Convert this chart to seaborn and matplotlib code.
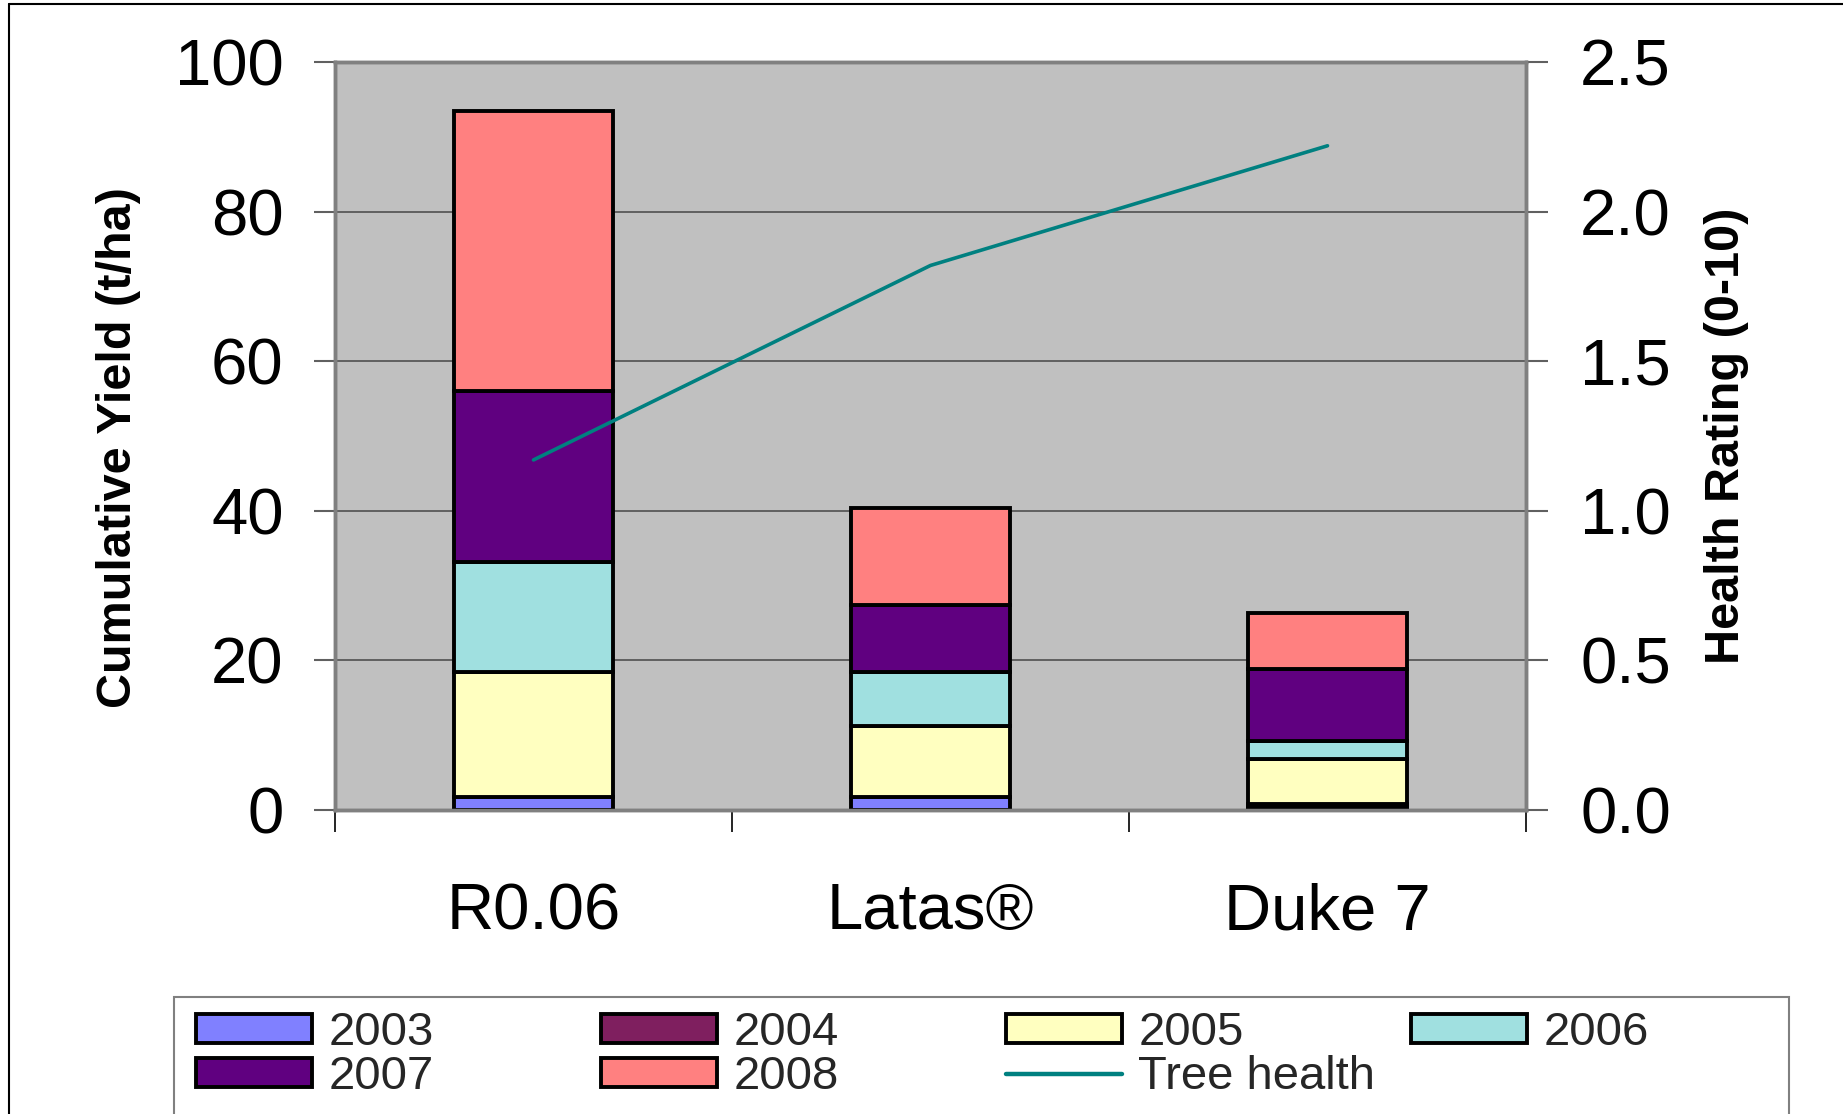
import numpy as np
import pandas as pd
import matplotlib
matplotlib.use("Agg")
import matplotlib.pyplot as plt
from matplotlib.patches import Patch, Rectangle
from matplotlib.lines import Line2D
import seaborn as sns

# ---------------- data ----------------
categories = ["R0.06", "Latas®", "Duke 7"]
years = ["2003", "2004", "2005", "2006", "2007", "2008"]
y2003 = [1.7, 1.7, 0.4]
y2004 = [0.0, 0.0, 0.4]
y2005 = [16.7, 9.5, 6.0]
y2006 = [14.8, 7.2, 2.4]
y2007 = [22.8, 9.0, 9.65]
y2008 = [37.4, 13.0, 7.45]
tree_health = [1.17, 1.82, 2.22]
yield_ticks = [0, 20, 40, 60, 80, 100]
health_ticks = [0.0, 0.5, 1.0, 1.5, 2.0, 2.5]

colors = ["#8080FF", "#7F1F5F", "#FFFFC0", "#A0E0E0", "#600080", "#FF8080"]
line_color = "#008080"

series = [y2003, y2004, y2005, y2006, y2007, y2008]

# ---------------- style ----------------
sns.set_style("white")
plt.rcParams["font.family"] = ["Liberation Sans", "DejaVu Sans"]

fig = plt.figure(figsize=(18.43, 11.14), dpi=100)
ax = fig.add_axes([335 / 1843, 1 - 810 / 1114, (1526 - 335) / 1843, (810 - 62) / 1114])
ax.set_facecolor("#C0C0C0")

bottom = np.zeros(len(categories))
for vals, col in zip(series, colors):
    df = pd.DataFrame({"cat": categories, "val": vals})
    sns.barplot(data=df, x="cat", y="val", ax=ax, color=col, saturation=1,
                width=0.40, bottom=bottom.copy(), edgecolor="black",
                linewidth=2.8, errorbar=None, zorder=3)
    bottom = bottom + np.asarray(vals)

ax.set_ylim(0, 100)
ax.set_xlim(-0.5, len(categories) - 0.5)
ax.set_yticks(yield_ticks)
ax.set_yticklabels([str(t) for t in yield_ticks])
ax.yaxis.grid(True, color="#505050", linewidth=1.2, zorder=1)
ax.xaxis.grid(False)
ax.set_axisbelow(True)

pos = np.arange(len(categories))
ax.set_xticks(np.arange(len(categories) + 1) - 0.5)
ax.set_xticklabels([])
ax.set_xticks(pos, minor=True)
ax.set_xticklabels(categories, minor=True)
ax.tick_params(axis="x", which="major", length=16, width=1.2, color="black", bottom=True)
ax.tick_params(axis="x", which="minor", length=0, pad=52, labelsize=47, labelcolor="black")
ax.tick_params(axis="y", which="major", left=True, length=15, width=1.5, color="#606060",
               pad=22, labelsize=47, labelcolor="black")
ax.set_xlabel("")

ax.set_ylabel("Cumulative Yield (t/ha)", fontsize=35, fontweight="bold", color="black")
ax.yaxis.set_label_coords(-0.182, 0.485)
ax.yaxis.label.set_verticalalignment("center")

for sp in ax.spines.values():
    sp.set_color("#808080")
    sp.set_linewidth(2.5)
    sp.set_visible(True)

# ---------------- health line ----------------
ax2 = ax.twinx()
sns.lineplot(x=categories, y=tree_health, ax=ax2, color=line_color, linewidth=2.6, sort=False)
ax2.set_ylim(0, 2.5)
ax2.set_yticks(health_ticks)
ax2.set_yticklabels([f"{t:.1f}" for t in health_ticks])
ax2.tick_params(axis="y", which="major", right=True, length=16, width=1.5, color="#606060",
                pad=23, labelsize=47, labelcolor="black")
ax2.set_ylabel("Health Rating (0-10)", fontsize=35, fontweight="bold", color="black")
ax2.yaxis.set_label_coords(1.168, 0.5)
ax2.yaxis.label.set_verticalalignment("center")
ax2.grid(False)
for sp in ax2.spines.values():
    sp.set_color("#808080")
    sp.set_linewidth(2.5)

# ---------------- legend ----------------
handles = [Patch(facecolor=c, edgecolor="black", linewidth=2.8) for c in colors]
handles.append(Line2D([0], [0], color=line_color, linewidth=3.2))
labels = years + ["Tree health"]
order = [0, 4, 1, 5, 2, 6, 3]
leg = fig.legend([handles[i] for i in order], [labels[i] for i in order],
                 ncol=4, loc="upper left", bbox_to_anchor=(196 / 1843, 1 - 1011 / 1114),
                 frameon=False, borderaxespad=0, borderpad=0, fontsize=34,
                 handlelength=2.45, handleheight=0.55, handletextpad=0.35,
                 labelspacing=0.0, columnspacing=0.76)
leg._legend_handle_box.mode = "equal"

fig.patches.append(Rectangle((174 / 1843, 1 - 1125 / 1114), (1789 - 174) / 1843, (1125 - 997) / 1114,
                             transform=fig.transFigure, fill=False, edgecolor="#808080",
                             linewidth=1.5))
fig.lines.append(Line2D([9 / 1843, 9 / 1843], [1 - 4 / 1114, 0], transform=fig.transFigure,
                        color="black", linewidth=1.5))
fig.lines.append(Line2D([9 / 1843, 1], [1 - 4 / 1114, 1 - 4 / 1114], transform=fig.transFigure,
                        color="black", linewidth=1.5))

fig.savefig("out.png", dpi=100)
